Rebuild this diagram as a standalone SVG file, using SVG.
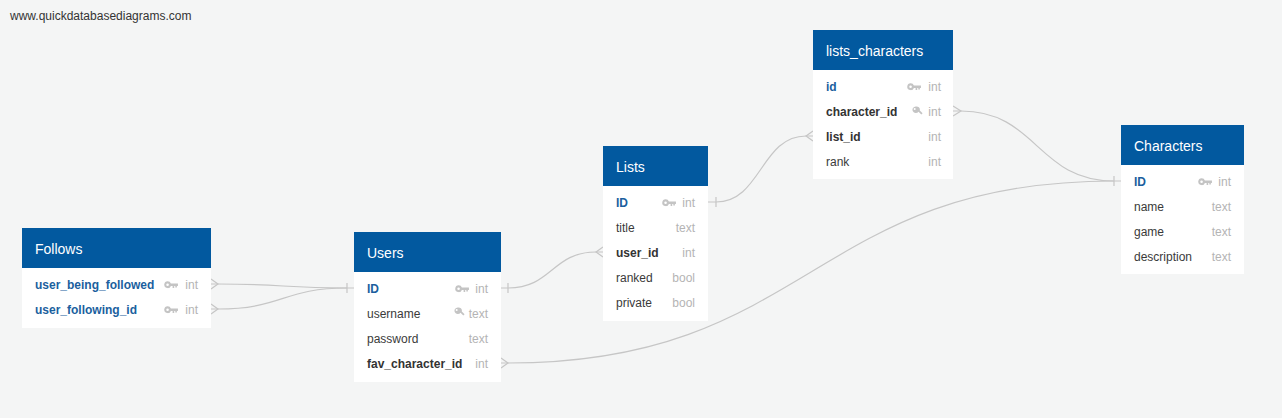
<svg xmlns="http://www.w3.org/2000/svg" width="1282" height="418" viewBox="0 0 1282 418">
<style>
.bg{fill:#f4f5f5}
.tbl{fill:#ffffff}
.hdr{fill:#02599f}
.ht{font-family:"Liberation Sans",Arial,sans-serif;font-size:14px;fill:#ffffff}
.f{font-family:"Liberation Sans",Arial,sans-serif;font-size:12px;fill:#3a3a3a}
.pk{fill:#1b5f9e;font-weight:bold}
.fk{font-weight:bold;fill:#333333}
.t{font-family:"Liberation Sans",Arial,sans-serif;font-size:12px;fill:#b4b4b4;text-anchor:end}
.c{fill:none;stroke:#c6c6c6;stroke-width:1.2}
.ico{fill:#c4c4c4}
.wm{font-family:"Liberation Sans",Arial,sans-serif;font-size:12px;fill:#333}
</style>
<defs>
<symbol id="key" viewBox="0 0 13 7" width="14" height="7.5">
<path class="ico" d="M3.5,0.3 A3.2,3.2 0 1 0 6.4,4.6 H8 V6.5 H9.5 V4.6 H10.5 V6 H12 V4.6 H13 V2.4 H6.4 A3.2,3.2 0 0 0 3.5,0.3 Z M3.3,2.3 A1.2,1.2 0 1 1 3.3,4.7 A1.2,1.2 0 1 1 3.3,2.3 Z"/>
</symbol>
<symbol id="idx" viewBox="0 0 11 11" width="11" height="11">
<path class="ico" d="M3.8,0.5 A3.3,3.3 0 1 0 6.5,5.7 L9.3,8.6 L10.6,7.3 L7.8,4.4 A3.3,3.3 0 0 0 3.8,0.5 Z"/>
<path fill="#ffffff" d="M2.7,2 A1,1 0 1 1 2.7,4 A1,1 0 1 1 2.7,2 Z"/>
</symbol>
</defs>
<rect class="bg" x="0" y="0" width="1282" height="418"/>
<text class="wm" x="10" y="20">www.quickdatabasediagrams.com</text>

<g id="connectors">
<path class="c" d="M211,284 H218 C283,284 283,288 347,288 H354"/>
<path class="c" d="M211,309 H218 C283,309 283,288 347,288"/>
<path class="c" d="M211,279 L218,284 L211,289 M211,304 L218,309 L211,314 M347,283 V293"/>
<path class="c" d="M501,288 H508 C552,288 552,252 596,252 H603"/>
<path class="c" d="M508,283 V293 M603,247 L596,252 L603,257"/>
<path class="c" d="M708,202 H716 C761,202 761,136 806,136 H813"/>
<path class="c" d="M716,197 V207 M813,131 L806,136 L813,141"/>
<path class="c" d="M953,111 H961 C1037,111 1037,181 1114,181 H1121"/>
<path class="c" d="M953,106 L961,111 L953,116 M1114,176 V186"/>
<path class="c" d="M501,363 H508 C811,363 811,181 1114,181"/>
<path class="c" d="M501,358 L508,363 L501,368"/>
</g>

<g id="Follows">
<rect class="tbl" x="22" y="228" width="189" height="100"/>
<rect class="hdr" x="22" y="228" width="189" height="40"/>
<text class="ht" x="35" y="254">Follows</text>
<text class="f pk" x="35" y="289">user_being_followed</text>
<use href="#key" x="164" y="281"/>
<text class="t" x="198" y="289">int</text>
<text class="f pk" x="35" y="314">user_following_id</text>
<use href="#key" x="164" y="306"/>
<text class="t" x="198" y="314">int</text>
</g>

<g id="Users">
<rect class="tbl" x="354" y="232" width="147" height="150"/>
<rect class="hdr" x="354" y="232" width="147" height="40"/>
<text class="ht" x="367" y="258">Users</text>
<text class="f pk" x="367" y="293">ID</text>
<use href="#key" x="455" y="285"/>
<text class="t" x="488" y="293">int</text>
<text class="f" x="367" y="318">username</text>
<use href="#idx" x="454" y="307"/>
<text class="t" x="488" y="318">text</text>
<text class="f" x="367" y="343">password</text>
<text class="t" x="488" y="343">text</text>
<text class="f fk" x="367" y="368">fav_character_id</text>
<text class="t" x="488" y="368">int</text>
</g>

<g id="Lists">
<rect class="tbl" x="603" y="146" width="105" height="175"/>
<rect class="hdr" x="603" y="146" width="105" height="40"/>
<text class="ht" x="616" y="172">Lists</text>
<text class="f pk" x="616" y="207">ID</text>
<use href="#key" x="662" y="199"/>
<text class="t" x="695" y="207">int</text>
<text class="f" x="616" y="232">title</text>
<text class="t" x="695" y="232">text</text>
<text class="f fk" x="616" y="257">user_id</text>
<text class="t" x="695" y="257">int</text>
<text class="f" x="616" y="282">ranked</text>
<text class="t" x="695" y="282">bool</text>
<text class="f" x="616" y="307">private</text>
<text class="t" x="695" y="307">bool</text>
</g>

<g id="lists_characters">
<rect class="tbl" x="813" y="30" width="140" height="149"/>
<rect class="hdr" x="813" y="30" width="140" height="40"/>
<text class="ht" x="826" y="56">lists_characters</text>
<text class="f pk" x="826" y="91">id</text>
<use href="#key" x="907" y="83"/>
<text class="t" x="941" y="91">int</text>
<text class="f fk" x="826" y="116">character_id</text>
<use href="#idx" x="912" y="106"/>
<text class="t" x="941" y="116">int</text>
<text class="f fk" x="826" y="141">list_id</text>
<text class="t" x="941" y="141">int</text>
<text class="f" x="826" y="166">rank</text>
<text class="t" x="941" y="166">int</text>
</g>

<g id="Characters">
<rect class="tbl" x="1121" y="125" width="123" height="149"/>
<rect class="hdr" x="1121" y="125" width="123" height="40"/>
<text class="ht" x="1134" y="151">Characters</text>
<text class="f pk" x="1134" y="186">ID</text>
<use href="#key" x="1198" y="178"/>
<text class="t" x="1231" y="186">int</text>
<text class="f" x="1134" y="211">name</text>
<text class="t" x="1231" y="211">text</text>
<text class="f" x="1134" y="236">game</text>
<text class="t" x="1231" y="236">text</text>
<text class="f" x="1134" y="261">description</text>
<text class="t" x="1231" y="261">text</text>
</g>
</svg>
